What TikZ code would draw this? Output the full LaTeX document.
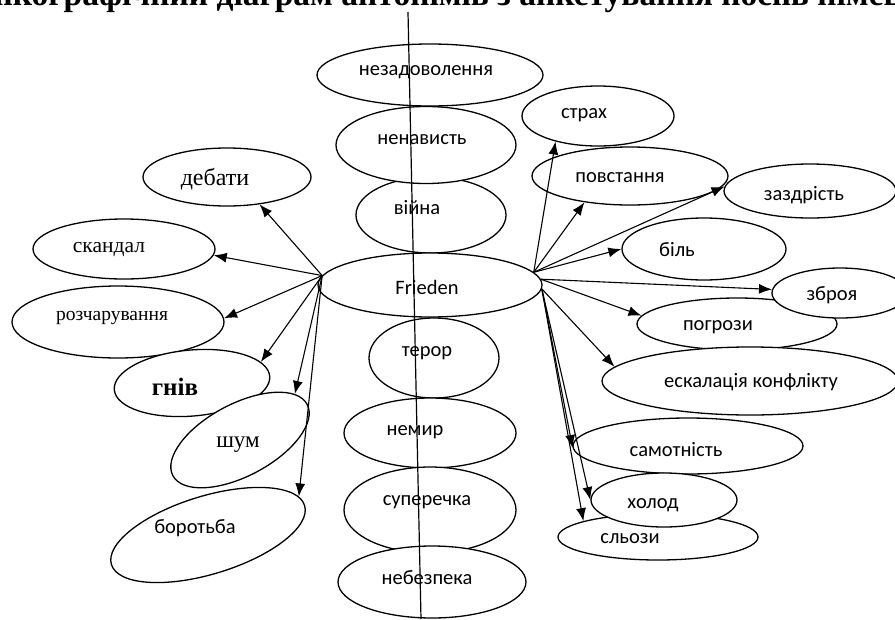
\documentclass[tikz,border=0pt]{standalone}
\usepackage{fontspec}
\setmainfont{Liberation Serif}
\newfontfamily\calfont{Carlito}
\usetikzlibrary{arrows.meta,shapes.geometric}
\begin{document}
\begin{tikzpicture}[x=1pt,y=-1pt]
\useasboundingbox (0,0) rectangle (895,619);
\tikzset{
  ell/.style={draw, ellipse, fill=white, line width=1.3pt, inner sep=0pt},
  sans/.style={font=\calfont\fontsize{20.5}{23}\selectfont, inner sep=0pt},
  serif/.style={font=\fontsize{21.5}{24}\selectfont, inner sep=0pt},
  arr/.style={-{Latex[length=13pt,width=10pt]}, line width=1.1pt},
  axis/.style={line width=1.2pt},
}
% title (cut off at the top)
\node[anchor=base west, inner sep=0pt, font=\bfseries\fontsize{33.5}{35}\selectfont] (title) at (-16,5) {нікографічний діаграм антонімів з анкетування носіїв німец};

% centre column
\node[ell, minimum width=226, minimum height=62] (nez) at (430,75) {};
\node[ell, minimum width=150, minimum height=76] (vij) at (431,215) {};
\node[ell, minimum width=180, minimum height=77] (nen) at (426,145) {};
\node[ell, minimum width=224, minimum height=64] (fr) at (430,285) {};
\node[ell, minimum width=130, minimum height=80] (ter) at (434,358) {};
\node[ell, minimum width=172, minimum height=70] (nem) at (430,433) {};
\node[ell, minimum width=172, minimum height=86] (sup) at (430,510) {};
\node[ell, minimum width=188, minimum height=72] (neb) at (432,582) {};

% left side
\node[ell, minimum width=168, minimum height=58] (deb) at (227,177) {};
\node[ell, minimum width=182, minimum height=60] (skn) at (124,249) {};
\node[ell, minimum width=212, minimum height=72] (roz) at (118,322) {};
\node[ell, minimum width=156, minimum height=66, rotate=5] (gniv) at (192,383) {};
\node[ell, minimum width=152, minimum height=72, rotate=28] (shum) at (240,440) {};
\node[ell, minimum width=202, minimum height=78, rotate=17] (bor) at (208,535) {};

% right side
\node[ell, minimum width=152, minimum height=60] (strah) at (598,116) {};
\node[ell, minimum width=196, minimum height=58] (pov) at (630,176) {};
\node[ell, minimum width=172, minimum height=54] (zaz) at (810,191) {};
\node[ell, minimum width=164, minimum height=62] (bil) at (704,249) {};
\node[ell, minimum width=200, minimum height=52] (pog) at (737,324) {};
\node[ell, minimum width=136, minimum height=50] (zbr) at (840,293) {};
\node[ell, minimum width=296, minimum height=68] (esk) at (750,381) {};
\node[ell, minimum width=230, minimum height=56] (sam) at (688,446) {};
\node[ell, minimum width=200, minimum height=46] (slz) at (658,537) {};
\node[ell, minimum width=146, minimum height=54] (hol) at (664,500) {};

% arrows to the left
\draw[arr] (fr.175) -- (deb.-40);
\draw[arr] (fr.175) -- (skn.-4);
\draw[arr] (fr.175) -- (roz.2);
\draw[arr] (fr.175) -- (gniv.12);
\draw[arr] (fr.175) -- (shum.12);
\draw[arr] (fr.175) -- (bor.6);

% arrows to the right
\draw[arr] (fr.7) -- (strah.211);
\draw[arr] (fr.7) -- (pov.210);
\draw[arr] (fr.7) -- (zaz.177);
\draw[arr] (fr.7) -- (bil.180);
\draw[arr] (fr.3) -- (zbr.177);
\draw[arr] (fr.3) -- (pog.175);
\draw[arr] (fr.-2) -- (esk.174);
\draw[arr] (fr.-2) -- (sam.181);
\draw[arr] (fr.-2) -- (hol.180);
\draw[arr] (fr.-2) -- (slz.168);

% texts
\node[sans] (nezT) at (426,72) {незадоволення};
\node[sans] (nenT) at (422,140) {ненависть};
\node[sans] (vijT) at (417,208) {війна};
\node[sans] (frT) at (427,287) {Frieden};
\node[sans] (terT) at (427,353) {терор};
\node[sans] (nemT) at (415,432) {немир};
\node[sans] (supT) at (427,502) {суперечка};
\node[sans] (nebT) at (427,578) {небезпека};

\node[serif, font=\fontsize{24}{26}\selectfont] (debT) at (215,179) {дебати};
\node[serif] (sknT) at (109,250) {скандал};
\node[serif, font=\fontsize{19.5}{22}\selectfont] (rozT) at (112,318) {розчарування};
\node[serif, font=\bfseries\fontsize{25}{27}\selectfont] (gnivT) at (175,387) {гнів};
\node[serif, font=\fontsize{23}{25}\selectfont] (shumT) at (238,445) {шум};
\node[sans] (borT) at (195,528) {боротьба};

\node[sans] (strahT) at (584,115) {страх};
\node[sans] (povT) at (620,178) {повстання};
\node[sans] (zazT) at (804,195) {заздрість};
\node[sans] (bilT) at (677,250) {біль};
\node[sans] (zbrT) at (832,295) {зброя};
\node[sans] (pogT) at (718,327) {погрози};
\node[sans] (eskT) at (751,382) {ескалація конфлікту};
\node[sans] (samT) at (676,450) {самотність};
\node[sans] (holT) at (653,505) {холод};
\node[sans] (slzT) at (630,539) {сльози};

% vertical axis
\coordinate (axTop) at (408,12);
\coordinate (axBot) at (421,619);
\draw[axis] (axTop) -- (axBot);
\end{tikzpicture}
\end{document}
